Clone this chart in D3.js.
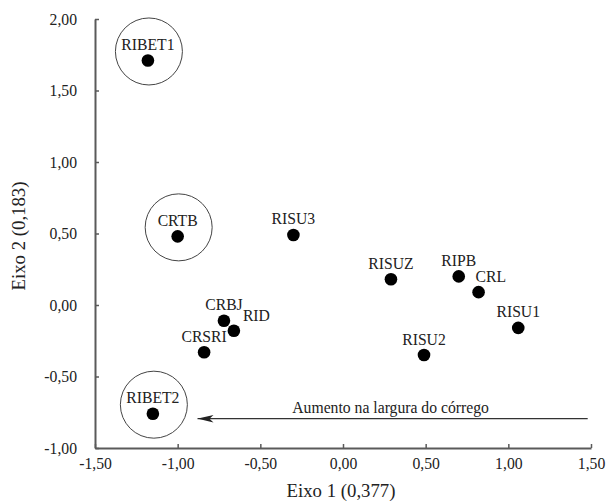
<!DOCTYPE html>
<html>
<head>
<meta charset="utf-8">
<script src="https://cdn.jsdelivr.net/npm/d3@7"></script>
<style>
  body { margin: 0; background: #fff; }
  svg text { font-family: "Liberation Serif", "Times New Roman", Times, Tinos, "DejaVu Serif", serif !important; fill: #222; }
</style>
</head>
<body>
<div id="chart-area"></div>
<script>
// site scores, axis 1 / axis 2
let sites = ['RIBET1', 'CRTB', 'RISU3', 'RISUZ', 'RIPB', 'CRL', 'RISU1', 'RISU2', 'CRBJ', 'RID', 'CRSRI', 'RIBET2'];
let eixo1 = [-1.18, -1.00, -0.30, 0.29, 0.70, 0.82, 1.06, 0.49, -0.72, -0.66, -0.84, -1.15];
let eixo2 = [1.71, 0.48, 0.49, 0.18, 0.20, 0.09, -0.16, -0.35, -0.11, -0.18, -0.33, -0.76];
let circled = ['RIBET1', 'CRTB', 'RIBET2'];
let xTicks = [-1.5, -1.0, -0.5, 0, 0.5, 1.0, 1.5];
let yTicks = [-1.0, -0.5, 0, 0.5, 1.0, 1.5, 2.0];
let arrowX = [1.48, -0.88];
let arrowY = -0.795;
let arrowText = 'Aumento na largura do córrego';

let margin = { left: 95, right: 15, top: 19, bottom: 54 };
let width = 606 - margin.left - margin.right;
let height = 502 - margin.top - margin.bottom;

let svg = d3.select('#chart-area').append('svg')
  .attr('width', 606)
  .attr('height', 502);

let g = svg.append('g')
  .attr('transform', `translate(${margin.left}, ${margin.top})`);

let x = d3.scaleLinear().domain([-1.5, 1.5]).range([0, width]);
let y = d3.scaleLinear().domain([-1, 2]).range([height, 0]);

let fmt = d => d3.format('.2f')(d).replace('.', ',').replace('−', '-');

// axes (ticks point inward)
let bottomAxis = d3.axisBottom(x).tickValues(xTicks).tickSizeInner(-4).tickSizeOuter(0).tickFormat(fmt);
let xg = g.append('g')
  .attr('transform', `translate(0, ${height})`)
  .call(bottomAxis);
xg.selectAll('text').attr('y', 10).attr('dy', '0.71em');

let leftAxis = d3.axisLeft(y).tickValues(yTicks).tickSizeInner(-4).tickSizeOuter(0).tickFormat(fmt);
let yg = g.append('g').call(leftAxis);
yg.selectAll('text').attr('x', -18);

g.selectAll('.domain').attr('stroke', '#5a5a5a').attr('stroke-width', 2);
g.selectAll('.tick line').attr('stroke', '#5a5a5a').attr('stroke-width', 1.5);
g.selectAll('.tick text').style('font-size', '15.7px').attr('fill', '#222');

// axis titles
svg.append('text')
  .attr('x', margin.left + x(0) - 2)
  .attr('y', 497)
  .attr('text-anchor', 'middle')
  .style('font-size', '18.8px')
  .text('Eixo 1 (0,377)');

svg.append('text')
  .attr('transform', 'translate(25, 236) rotate(-90)')
  .attr('text-anchor', 'middle')
  .style('font-size', '18.8px')
  .text('Eixo 2 (0,183)');

let data = sites.map((s, i) => ({ name: s, e1: eixo1[i], e2: eixo2[i] }));

// highlight circles
g.selectAll('circle.ring')
  .data(data.filter(d => circled.includes(d.name)))
  .enter()
  .append('circle')
  .attr('class', 'ring')
  .attr('cx', d => x(d.e1) + 1)
  .attr('cy', d => y(d.e2) - 9)
  .attr('r', 33.5)
  .attr('fill', 'none')
  .attr('stroke', '#444')
  .attr('stroke-width', 1);

g.selectAll('circle.pt')
  .data(data)
  .enter()
  .append('circle')
  .attr('class', 'pt')
  .attr('cx', d => x(d.e1))
  .attr('cy', d => y(d.e2))
  .attr('r', 6.3)
  .attr('fill', '#000');

// labels: most centred above, a couple offset to the right
let offsets = { RID: [9, -10, 'start'], CRL: [-3, -10, 'start'] };
g.selectAll('text.lbl')
  .data(data)
  .enter()
  .append('text')
  .attr('class', 'lbl')
  .attr('x', d => x(d.e1) + (offsets[d.name] ? offsets[d.name][0] : 0))
  .attr('y', d => y(d.e2) + (offsets[d.name] ? offsets[d.name][1] : -10.5))
  .attr('text-anchor', d => offsets[d.name] ? offsets[d.name][2] : 'middle')
  .style('font-size', '15.7px')
  .text(d => d.name);

// arrow
svg.append('defs').append('marker')
  .attr('id', 'head')
  .attr('viewBox', '0 0 16 10')
  .attr('refX', 16)
  .attr('refY', 5)
  .attr('markerWidth', 16)
  .attr('markerHeight', 10)
  .attr('markerUnits', 'userSpaceOnUse')
  .attr('orient', 'auto')
  .append('path')
  .attr('d', 'M16,5 L0,1.2 L4,5 L0,8.8 Z')
  .attr('fill', '#222');

g.append('line')
  .attr('x1', x(arrowX[0]))
  .attr('x2', x(arrowX[1]))
  .attr('y1', y(arrowY))
  .attr('y2', y(arrowY))
  .attr('stroke', '#333')
  .attr('stroke-width', 1.3)
  .attr('marker-end', 'url(#head)');

g.append('text')
  .attr('x', (x(arrowX[0]) + x(arrowX[1])) / 2 - 2)
  .attr('y', y(arrowY) - 6)
  .attr('text-anchor', 'middle')
  .style('font-size', '15.7px')
  .text(arrowText);
</script>
</body>
</html>
